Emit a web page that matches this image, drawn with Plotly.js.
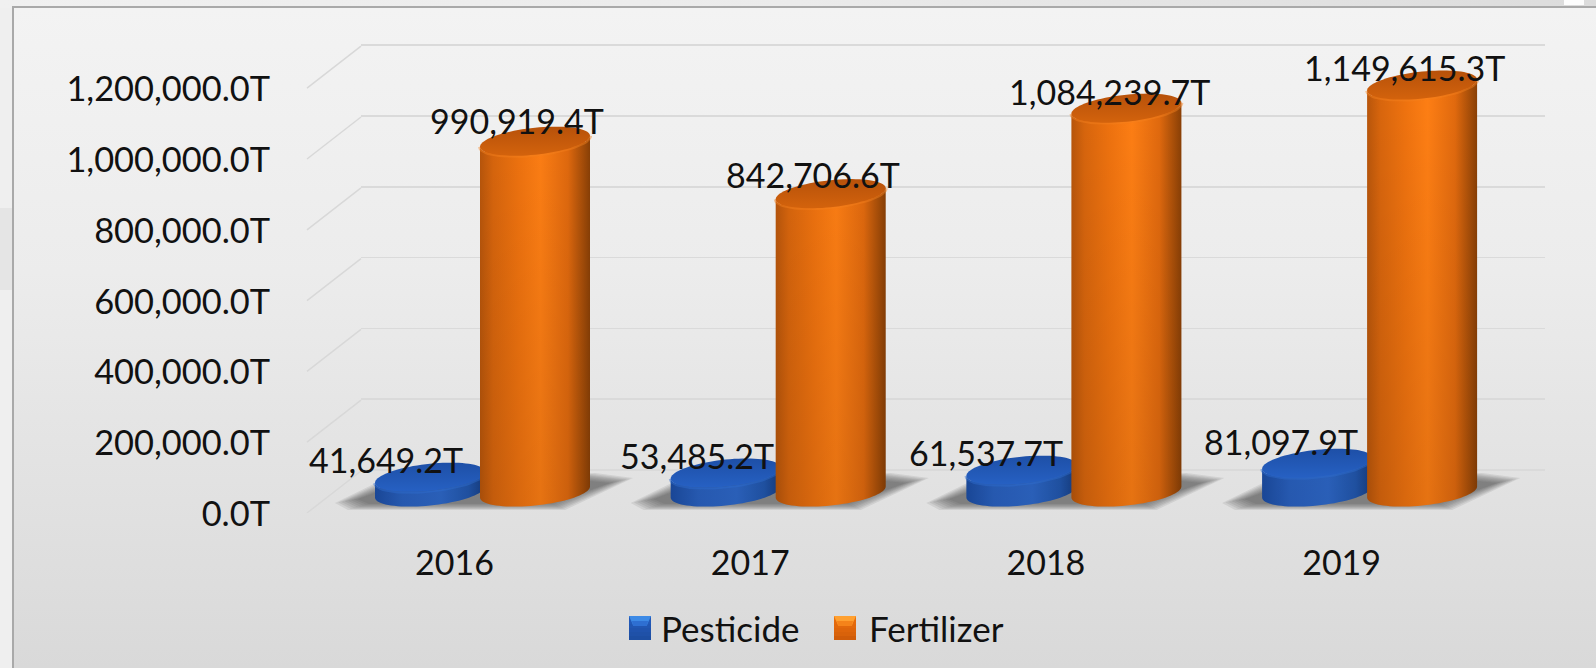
<!DOCTYPE html>
<html><head><meta charset="utf-8">
<script src="https://cdn.plot.ly/plotly-3.0.1.min.js"></script>
<style>
html,body{margin:0;padding:0;width:1596px;height:668px;overflow:hidden;background:#efefef}
#top{position:absolute;left:0;top:0;width:1596px;height:8px;background:linear-gradient(to right,#f0f0f0,#ebebeb 50%,#dcdcdc)}
#patch1{position:absolute;left:1564px;top:0;width:20px;height:5px;background:#fdfdfd}
#patch2{position:absolute;left:0;top:208px;width:12px;height:82px;background:#e5e5e5}
#frame{position:absolute;left:12px;top:6px;right:0;bottom:0;border-left:2px solid #a9a9a9;border-top:2px solid #a9a9a9;background:linear-gradient(#f3f3f3 0%,#ececec 40%,#d9d9d9 100%)}
#chart{position:absolute;left:0;top:0;width:1596px;height:668px}
</style></head><body><div id="top"></div><div id="patch1"></div><div id="patch2"></div><div id="frame"></div><div id="chart"></div>
<script>
const categories=[2016,2017,2018,2019];
const pesticide=[41649.2,53485.2,61537.7,81097.9];
const fertilizer=[990919.4,842706.6,1084239.7,1149615.3];
const yTicks=[0,200000,400000,600000,800000,1000000,1200000];
const W=1596,H=668;
const catPx=295.7, catX0=482.5, valPx=0.000354, base=492;
const xMin=-0.6,xMax=3.6,yMin=-60000,yMax=1300000;
const R=55, RY=13.5, TILT=5.5;
const xDom=[(catX0+xMin*catPx)/W,(catX0+xMax*catPx)/W];
const yTop=base-yMax*valPx, yBot=base-yMin*valPx;
const dom=(s)=>[1-(yBot-s)/H,1-(yTop-s)/H];
const seriesOffset=52.5/catPx;
const fmt=v=>v.toLocaleString('en-US',{minimumFractionDigits:1,maximumFractionDigits:1})+'T';
const traces=[];
const A2={xaxis:'x2',yaxis:'y2'};
function ell(cx,v,t0,t1,n){const xs=[],ys=[];for(let i=0;i<=n;i++){const t=t0+(t1-t0)*i/n;
 xs.push(cx+R*Math.cos(t)/catPx);
 ys.push(v-(RY*Math.sin(t)-TILT*Math.cos(t))/valPx);}return [xs,ys];}
function cyl(cx,v,pal,name){
 traces.push({...A2,type:'bar',x:[cx],y:[v],width:[100/catPx],marker:{color:pal.mid,line:{width:0}},showlegend:false,name:name,hoverinfo:'name+y'});
 const [bx,by]=ell(cx,0,Math.PI,0,40);
 const [fx,fy]=ell(cx,v,Math.PI,0,40);
 const X=bx.concat(fx.slice().reverse()),Y=by.concat(fy.slice().reverse());
 X.push(X[0]);Y.push(Y[0]);
 traces.push({...A2,type:'scatter',mode:'none',x:X,y:Y,fill:'toself',fillcolor:pal.mid,hoverinfo:'skip',showlegend:false,
  fillgradient:{type:'horizontal',start:cx-R/catPx,stop:cx+R/catPx,colorscale:pal.side}});
 traces.push({...A2,type:'scatter',mode:'none',x:X,y:Y,fill:'toself',fillcolor:'rgba(0,0,0,0)',hoverinfo:'skip',showlegend:false,
  fillgradient:{type:'vertical',start:1200000,stop:-40000,colorscale:[[0,'rgba(0,0,0,0)'],[1,'rgba(0,0,0,0.1)']]}});
 traces.push({...A2,type:'scatter',mode:'lines',x:fx,y:fy,line:{color:pal.rim,width:4},hoverinfo:'skip',showlegend:false,opacity:.45});
 const [cxs,cys]=ell(cx,v,0,2*Math.PI,80);
 traces.push({...A2,type:'scatter',mode:'none',x:cxs,y:cys,fill:'toself',fillcolor:pal.cap,hoverinfo:'skip',showlegend:false,
  fillgradient:{type:'vertical',start:v+RY/valPx,stop:v-RY/valPx,colorscale:pal.capGrad}});
}
const blue={mid:'#2a63c4',cap:'#2257b5',rim:'#2f6dce',
 side:[[0,'#1c4ea6'],[.25,'#2a62c2'],[.6,'#2e69cb'],[.85,'#2258b0'],[1,'#173f85']],
 capGrad:[[0,'#1e50a8'],[1,'#2660c2']]};
const orange={mid:'#ec700f',cap:'#c55a0a',rim:'#f58120',
 side:[[0,'#b9560b'],[.12,'#d9660d'],[.35,'#f0730f'],[.55,'#ff7f14'],[.8,'#e26a0e'],[.93,'#a94f09'],[1,'#8a4006']],
 capGrad:[[0,'#b8520a'],[1,'#d2620c']]};
// wall (x/y) and tick-label carrier subplots
traces.push({type:'scatter',x:[0],y:[0],mode:'none',showlegend:false,hoverinfo:'skip'});
traces.push({type:'scatter',x:[0],y:[0],xaxis:'x3',yaxis:'y3',mode:'none',showlegend:false,hoverinfo:'skip'});
// side-wall depth lines
const dX=(361-307)/catPx, dV=21/valPx, frontX=(307-catX0)/catPx;
yTicks.forEach(v=>traces.push({...A2,type:'scatter',mode:'lines',x:[frontX,frontX+dX],y:[v-dV,v+dV],line:{color:'#d8d8d8',width:1.5},hoverinfo:'skip',showlegend:false}));
// soft floor shadow
categories.forEach((c,i)=>{
 const L=i-seriesOffset, Rt=i+seriesOffset, mid=i;
 const xs0=[L-95/catPx,L-82/catPx,Rt+30/catPx,Rt+98/catPx,Rt+60/catPx,L-52/catPx];
 const ys0=[-11,-18,-18,14,19,10].map(a=>a/valPx);
 for(let k=0;k<8;k++){
  const sx=1-k*.022, sy=1-k*.05;
  const xs=xs0.map(a=>mid+(a-mid)*sx), ys=ys0.map(a=>a*sy);
  traces.push({...A2,type:'scatter',mode:'none',x:xs.concat(xs[0]),y:ys.concat(ys[0]),fill:'toself',fillcolor:'rgba(60,60,60,.1)',hoverinfo:'skip',showlegend:false});
 }
});
categories.forEach((c,i)=>{cyl(i-seriesOffset,pesticide[i],blue,'Pesticide');cyl(i+seriesOffset,fertilizer[i],orange,'Fertilizer');});
const font={family:'Lato, Carlito, sans-serif',size:34,color:'#111'};
const lblP=[[-44,18],[-29,18],[-35,18],[-36,22]], lblF=[[-18,21],[-18,19],[-17,17],[-18,18]];
const ann=[];
categories.forEach((c,i)=>{
 ann.push({x:i-seriesOffset,y:pesticide[i],xref:'x2',yref:'y2',text:fmt(pesticide[i]),showarrow:false,xshift:lblP[i][0],yshift:lblP[i][1],font});
 ann.push({x:i+seriesOffset,y:fertilizer[i],xref:'x2',yref:'y2',text:fmt(fertilizer[i]),showarrow:false,xshift:lblF[i][0],yshift:lblF[i][1],font});
});
const legendNames=['Pesticide','Fertilizer'];
const legendX=[659,867],swX=[629,834];
legendNames.forEach((n,i)=>ann.push({xref:'paper',yref:'paper',x:legendX[i]/W,y:1-628/H,xanchor:'left',yanchor:'middle',text:n,showarrow:false,font:{...font,size:35}}));
const shapes=[];
const swatchBands=[['#2259b8','#e8700d'],['#2259b8','#e56a0c'],['#2156b2','#e2680c'],['#2053ad','#de650b'],['#1f51a8','#d9620a'],['#1d4ea2','#d05c09']];
const sy0=616, sw=22, sh=24;
legendNames.forEach((n,i)=>{
 swatchBands.forEach((b,k)=>shapes.push({type:'rect',xref:'paper',yref:'paper',layer:'above',line:{width:0},fillcolor:b[i],
  x0:swX[i]/W,x1:(swX[i]+sw)/W,y0:1-(sy0+k*4+4)/H,y1:1-(sy0+k*4)/H}));
 const px=a=>(swX[i]+a)/W, py=a=>1-(sy0+a)/H;
 shapes.push({type:'path',xref:'paper',yref:'paper',layer:'above',line:{width:0},fillcolor:['#3d8ae6','#ffa030'][i],
  path:`M${px(0)},${py(0)}L${px(sw)},${py(0)}L${px(sw-4)},${py(9)}L${px(4)},${py(9)}Z`});
 shapes.push({type:'path',xref:'paper',yref:'paper',layer:'above',line:{width:0},fillcolor:['#2e6fd2','#f5831a'][i],
  path:`M${px(3)},${py(5)}L${px(sw-3)},${py(5)}L${px(sw-4)},${py(10)}L${px(4)},${py(10)}Z`});
});
const layout={width:W,height:H,margin:{l:0,r:0,t:0,b:0},paper_bgcolor:'rgba(0,0,0,0)',plot_bgcolor:'rgba(0,0,0,0)',
 barmode:'overlay',showlegend:false,font,annotations:ann,shapes,
 xaxis:{domain:[361/W,1545/W],range:[0,1],visible:false},
 yaxis:{domain:dom(22),range:[yMin,yMax],tickvals:yTicks,showgrid:true,gridcolor:'#dadada',gridwidth:1.5,showticklabels:false,zeroline:false,showline:false,ticks:''},
 xaxis2:{domain:xDom,range:[xMin,xMax],anchor:'y2',visible:false},
 yaxis2:{domain:dom(0),range:[yMin,yMax],anchor:'x2',visible:false},
 xaxis3:{domain:[(catX0-28+xMin*catPx)/W,(catX0-28+xMax*catPx)/W],range:[xMin,xMax],anchor:'y3',tickvals:categories.map((c,i)=>i),ticktext:categories.map(String),showgrid:false,zeroline:false,showline:false,ticks:'',tickfont:font,ticklabelstandoff:5},
 yaxis3:{domain:dom(-22),range:[yMin,yMax],anchor:'free',position:270/W,tickvals:yTicks,ticktext:yTicks.map(fmt),showgrid:false,zeroline:false,showline:false,ticks:'',tickfont:{...font,size:34.4}}
};
Plotly.newPlot('chart',traces,layout,{staticPlot:true,displayModeBar:false});
</script></body></html>
